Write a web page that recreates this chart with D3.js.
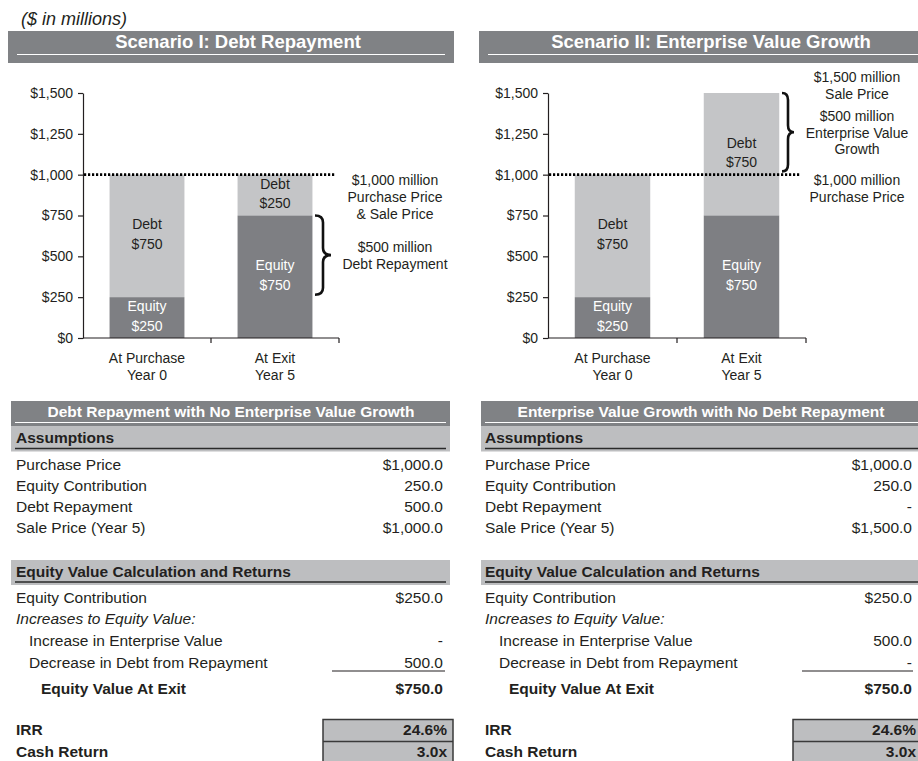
<!DOCTYPE html>
<html>
<head>
<meta charset="utf-8">
<script src="https://cdn.jsdelivr.net/npm/d3@7/dist/d3.min.js"></script>
<style>
  html, body { margin: 0; padding: 0; background: #fff; }
  text { font-family: "Liberation Sans", Arial, Helvetica, sans-serif; }
</style>
</head>
<body>
<svg id="chart" width="918" height="761"></svg>
<script>
// ---------------- DATA ----------------
const catLine1 = ["At Purchase", "At Exit"];
const catLine2 = ["Year 0", "Year 5"];
const yTicks = [0, 250, 500, 750, 1000, 1250, 1500];
const s1Equity = [250, 750];
const s1Debt = [750, 250];
const s2Equity = [250, 750];
const s2Debt = [750, 750];
const purchasePrice = 1000;
const s1Brace = [750, 265];
const s2Brace = [1500, 1020];
const s1Notes1 = ["$1,000 million", "Purchase Price", "& Sale Price"];
const s1Notes2 = ["$500 million", "Debt Repayment"];
const s2Notes0 = ["$1,500 million", "Sale Price"];
const s2Notes1 = ["$500 million", "Enterprise Value", "Growth"];
const s2Notes2 = ["$1,000 million", "Purchase Price"];
const scenarioTitles = ["Scenario I: Debt Repayment", "Scenario II: Enterprise Value Growth"];
const tableTitles = ["Debt Repayment with No Enterprise Value Growth", "Enterprise Value Growth with No Debt Repayment"];
const assumptionLabels = ["Purchase Price", "Equity Contribution", "Debt Repayment", "Sale Price (Year 5)"];
const s1Assumptions = ["$1,000.0", "250.0", "500.0", "$1,000.0"];
const s2Assumptions = ["$1,000.0", "250.0", "-", "$1,500.0"];
const calcLabels = ["Equity Contribution", "Increases to Equity Value:", "Increase in Enterprise Value", "Decrease in Debt from Repayment", "Equity Value At Exit"];
const s1Calc = ["$250.0", "", "-", "500.0", "$750.0"];
const s2Calc = ["$250.0", "", "500.0", "-", "$750.0"];
const returnLabels = ["IRR", "Cash Return"];
const s1Returns = ["24.6%", "3.0x"];
const s2Returns = ["24.6%", "3.0x"];

// ---------------- STYLE ----------------
const C = {
  header: "#808285",
  light: "#bdbec0",
  debt: "#c4c5c7",
  equity: "#7e7f83",
  ink: "#231f20"
};
const svg = d3.select("#chart");

svg.append("text").attr("x", 21).attr("y", 25)
  .attr("font-size", 18).attr("font-style", "italic").attr("fill", C.ink)
  .text("($ in millions)");

// ---------------- CHART ----------------
function drawChart(cfg) {
  const g = svg.append("g");
  // header
  g.append("rect").attr("x", cfg.hx0).attr("y", 31).attr("width", cfg.hx1 - cfg.hx0).attr("height", 32).attr("fill", C.header);
  g.append("line").attr("x1", cfg.hx0 + 9).attr("x2", cfg.hx1 - 9).attr("y1", 54.5).attr("y2", 54.5)
    .attr("stroke", "#fff").attr("stroke-width", 1);
  g.append("text").attr("x", cfg.titleX).attr("y", 48).attr("text-anchor", "middle")
    .attr("font-size", 18.5).attr("font-weight", "bold").attr("fill", "#fff").text(cfg.title);

  const y = d3.scaleLinear().domain([0, 1500]).range([338, 93]);
  const x = d3.scaleBand().domain(catLine1).range([cfg.ax0, cfg.ax1]).padding(0);
  const bw = x.bandwidth() * 0.585;

  // bars
  const rows = catLine1.map((c, i) => ({ c, eq: cfg.equity[i], debt: cfg.debt[i] }));
  rows.forEach(r => {
    const bx = x(r.c) + (x.bandwidth() - bw) / 2;
    const cx = x(r.c) + x.bandwidth() / 2;
    g.append("rect").attr("x", bx).attr("width", bw)
      .attr("y", y(r.eq + r.debt)).attr("height", y(r.eq) - y(r.eq + r.debt)).attr("fill", C.debt);
    g.append("rect").attr("x", bx).attr("width", bw)
      .attr("y", y(r.eq)).attr("height", y(0) - y(r.eq)).attr("fill", C.equity);
    const dm = (y(r.eq) + y(r.eq + r.debt)) / 2;
    const em = (y(0) + y(r.eq)) / 2;
    [["Debt", "$" + r.debt, dm, C.ink], ["Equity", "$" + r.eq, em, "#fff"]].forEach(([a, b, m, col]) => {
      g.append("text").attr("x", cx).attr("y", m - 6.5).attr("text-anchor", "middle")
        .attr("font-size", 14).attr("fill", col).text(a);
      g.append("text").attr("x", cx).attr("y", m + 13).attr("text-anchor", "middle")
        .attr("font-size", 14).attr("fill", col).text(b);
    });
  });

  // y axis
  const ya = g.append("g").attr("transform", `translate(${cfg.ax0},0)`)
    .call(d3.axisLeft(y).tickValues(yTicks).tickSize(5).tickSizeOuter(0).tickPadding(5)
      .tickFormat(d => "$" + d3.format(",")(d)));
  ya.select(".domain").attr("stroke", C.ink).attr("stroke-width", 1.2);
  ya.selectAll(".tick line").attr("stroke", C.ink).attr("stroke-width", 1.2);
  ya.selectAll(".tick text").attr("font-size", 14).attr("fill", C.ink)
    .attr("font-family", "'Liberation Sans', Arial, sans-serif");

  // x axis
  g.append("line").attr("x1", cfg.ax0).attr("x2", cfg.ax1).attr("y1", y(0)).attr("y2", y(0))
    .attr("stroke", C.ink).attr("stroke-width", 1.2);
  catLine1.forEach(c => {
    const bx = x(c) + x.bandwidth();
    g.append("line").attr("x1", bx).attr("x2", bx).attr("y1", y(0)).attr("y2", y(0) + 5)
      .attr("stroke", C.ink).attr("stroke-width", 1.2);
  });
  catLine1.forEach((c, i) => {
    const cx = x(c) + x.bandwidth() / 2;
    g.append("text").attr("x", cx).attr("y", y(0) + 24.5).attr("text-anchor", "middle")
      .attr("font-size", 14).attr("fill", C.ink).text(catLine1[i]);
    g.append("text").attr("x", cx).attr("y", y(0) + 41.5).attr("text-anchor", "middle")
      .attr("font-size", 14).attr("fill", C.ink).text(catLine2[i]);
  });

  // dotted purchase price line
  g.append("line").attr("x1", cfg.ax0 + 1).attr("x2", cfg.dotEnd)
    .attr("y1", y(purchasePrice)).attr("y2", y(purchasePrice))
    .attr("stroke", "#000").attr("stroke-width", 2.8).attr("stroke-dasharray", "2.2,1.8");

  // brace
  const [b0, b1] = cfg.brace.map(v => y(v));
  const top = Math.min(b0, b1), bot = Math.max(b0, b1), mid = (top + bot) / 2;
  const bxL = cfg.braceX0, bxP = cfg.braceX1, xm = (bxL + bxP) / 2, r = 7;
  const p = `M${bxL},${top} Q${xm},${top} ${xm},${top + r} L${xm},${mid - r} Q${xm},${mid} ${bxP},${mid}` +
    ` Q${xm},${mid} ${xm},${mid + r} L${xm},${bot - r} Q${xm},${bot} ${bxL},${bot}`;
  g.append("path").attr("d", p).attr("fill", "none").attr("stroke", "#111").attr("stroke-width", 2.6);

  // notes
  cfg.notes.forEach(n => {
    n.lines.forEach((t, i) => {
      g.append("text").attr("x", cfg.noteX).attr("y", n.y + i * 16.7).attr("text-anchor", "middle")
        .attr("font-size", 14).attr("fill", C.ink).text(t);
    });
  });
  return y;
}

const yS = d3.scaleLinear().domain([0, 1500]).range([338, 93]);
drawChart({
  hx0: 8, hx1: 454, titleX: 238, title: scenarioTitles[0],
  ax0: 83, ax1: 339, equity: s1Equity, debt: s1Debt, dotEnd: 335,
  brace: s1Brace, braceX0: 315, braceX1: 331, noteX: 395,
  notes: [
    { lines: s1Notes1, y: yS(purchasePrice) + 10.5 },
    { lines: s1Notes2, y: (yS(s1Brace[0]) + yS(s1Brace[1])) / 2 - 3 }
  ]
});
drawChart({
  hx0: 479, hx1: 927, titleX: 711, title: scenarioTitles[1],
  ax0: 548, ax1: 806, equity: s2Equity, debt: s2Debt, dotEnd: 800,
  brace: s2Brace, braceX0: 782, braceX1: 794, noteX: 857,
  notes: [
    { lines: s2Notes0, y: yS(1500) - 11 },
    { lines: s2Notes1, y: 121 },
    { lines: s2Notes2, y: yS(purchasePrice) + 10.5 }
  ]
});

// ---------------- TABLES ----------------
function drawTable(t) {
  const g = svg.append("g");
  const FS = 15.5;
  // title bar
  g.append("rect").attr("x", t.x0).attr("y", 401).attr("width", t.x1 - t.x0).attr("height", 25.5).attr("fill", C.header);
  g.append("line").attr("x1", t.x0 + 4).attr("x2", t.x1 - 4).attr("y1", 422.5).attr("y2", 422.5)
    .attr("stroke", "#fff").attr("stroke-width", 1);
  g.append("text").attr("x", t.titleX).attr("y", 417).attr("text-anchor", "middle")
    .attr("font-size", FS).attr("font-weight", "bold").attr("fill", "#fff").text(t.title);

  function section(yTop, label) {
    g.append("rect").attr("x", t.x0).attr("y", yTop).attr("width", t.x1 - t.x0).attr("height", 25).attr("fill", C.light);
    g.append("line").attr("x1", t.x0 + 4).attr("x2", t.x1 - 4).attr("y1", yTop + 22).attr("y2", yTop + 22)
      .attr("stroke", "#2a2a2a").attr("stroke-width", 1.5);
    g.append("text").attr("x", t.lx).attr("y", yTop + 16.5).attr("font-size", FS).attr("font-weight", "bold")
      .attr("fill", C.ink).text(label);
  }
  section(426.5, "Assumptions");
  const aY = [470, 491, 512, 533];
  assumptionLabels.forEach((l, i) => {
    g.append("text").attr("x", t.lx).attr("y", aY[i]).attr("font-size", FS).attr("fill", C.ink).text(l);
    g.append("text").attr("x", t.vx).attr("y", aY[i]).attr("text-anchor", "end").attr("font-size", FS).attr("fill", C.ink).text(t.assump[i]);
  });

  section(560, "Equity Value Calculation and Returns");
  const cY = [603, 624, 646, 668, 694];
  const cX = [t.lx, t.lx, t.ix, t.ix, t.bx];
  calcLabels.forEach((l, i) => {
    const tx = g.append("text").attr("x", cX[i]).attr("y", cY[i]).attr("font-size", FS).attr("fill", C.ink).text(l);
    if (i === 1) tx.attr("font-style", "italic");
    if (i === 4) tx.attr("font-weight", "bold");
    const v = g.append("text").attr("x", t.vx).attr("y", cY[i]).attr("text-anchor", "end").attr("font-size", FS).attr("fill", C.ink).text(t.calc[i]);
    if (i === 4) v.attr("font-weight", "bold");
  });
  g.append("line").attr("x1", t.ux0).attr("x2", t.ux1).attr("y1", 671).attr("y2", 671).attr("stroke", C.ink).attr("stroke-width", 1.2);

  // returns box
  g.append("rect").attr("x", t.bx0).attr("y", 719.5).attr("width", t.bx1 - t.bx0).attr("height", 44)
    .attr("fill", C.light).attr("stroke", "#3a3a3a").attr("stroke-width", 1.5);
  g.append("line").attr("x1", t.bx0).attr("x2", t.bx1).attr("y1", 741.5).attr("y2", 741.5).attr("stroke", "#3a3a3a").attr("stroke-width", 1.3);
  const rY = [735, 757];
  returnLabels.forEach((l, i) => {
    g.append("text").attr("x", t.lx).attr("y", rY[i]).attr("font-size", FS).attr("font-weight", "bold").attr("fill", C.ink).text(l);
    g.append("text").attr("x", t.rx).attr("y", rY[i]).attr("text-anchor", "end").attr("font-size", FS).attr("font-weight", "bold").attr("fill", C.ink).text(t.ret[i]);
  });
}

drawTable({
  x0: 11, x1: 450, titleX: 231, title: tableTitles[0],
  lx: 16, ix: 29, bx: 41, vx: 443, rx: 447,
  ux0: 332, ux1: 445, bx0: 323, bx1: 453,
  assump: s1Assumptions, calc: s1Calc, ret: s1Returns
});
drawTable({
  x0: 481, x1: 922, titleX: 701, title: tableTitles[1],
  lx: 485, ix: 499, bx: 509, vx: 912, rx: 916,
  ux0: 802, ux1: 913, bx0: 793, bx1: 922,
  assump: s2Assumptions, calc: s2Calc, ret: s2Returns
});
</script>
</body>
</html>
